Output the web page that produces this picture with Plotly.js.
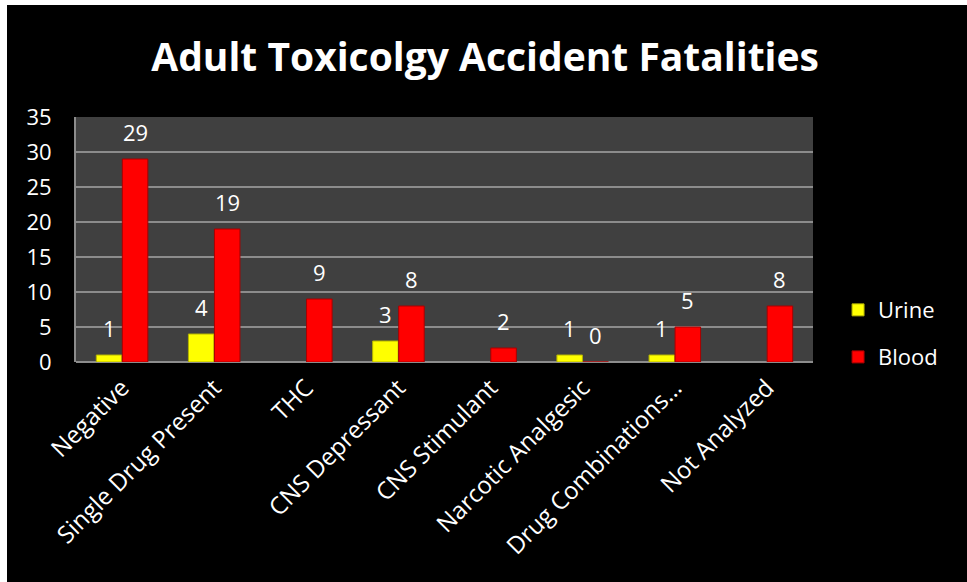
<!DOCTYPE html>
<html>
<head>
<meta charset="utf-8">
<script src="https://cdn.plot.ly/plotly-3.0.1.min.js"></script>
<style>
  html, body { margin: 0; padding: 0; background: #ffffff; width: 967px; height: 582px; overflow: hidden; }
  #chart { position: absolute; left: 7px; top: 5px; width: 960px; height: 577px; }
</style>
</head>
<body>
<div id="chart"></div>
<script>
const categories = ["Negative", "Single Drug Present", "THC", "CNS Depressant", "CNS Stimulant", "Narcotic Analgesic", "Drug Combinations…", "Not Analyzed"];
const urine = [1, 4, null, 3, null, 1, 1, null];
const blood = [29, 19, 9, 8, 2, 0, 5, 8];
const yTicks = [0, 5, 10, 15, 20, 25, 30, 35];

const FONT = "Open Sans, sans-serif";

const traces = [
  {
    type: "bar", name: "Urine", x: categories, y: urine,
    legend: "legend",
    marker: { color: "#ffff00", line: { color: "#b3b300", width: 1 } },
    hoverinfo: "skip"
  },
  {
    type: "bar", name: "Blood", x: categories, y: blood,
    legend: "legend2",
    marker: { color: "#ff0000", line: { color: "#a80000", width: 1 } },
    hoverinfo: "skip"
  }
];

const annotations = [];
function addLabels(vals, shift) {
  vals.forEach((v, i) => {
    if (v === null || v === undefined) return;
    annotations.push({
      x: categories[i], y: v, xref: "x", yref: "y",
      text: String(v), showarrow: false,
      xshift: shift, yshift: 27, yanchor: "middle",
      font: { family: FONT, size: 22, color: "#ffffff" }
    });
  });
}
addLabels(urine, -13);
addLabels(blood, 13);

const legendBase = {
  x: 1.034, xanchor: "left", yanchor: "middle",
  font: { family: FONT, size: 22, color: "#ffffff" },
  bgcolor: "rgba(0,0,0,0)"
};

const layout = {
  width: 960, height: 577,
  paper_bgcolor: "#000000",
  plot_bgcolor: "#404040",
  margin: { l: 69, r: 154, t: 112, b: 220 },
  title: {
    text: "<b>Adult Toxicolgy Accident Fatalities</b>",
    font: { family: FONT, size: 39, color: "#ffffff" },
    x: 0.498, xanchor: "center", y: 0.91, yanchor: "middle"
  },
  barmode: "group",
  bargap: 0.435,
  bargroupgap: 0.02,
  xaxis: {
    type: "category",
    tickangle: -45,
    tickfont: { family: FONT, size: 24, color: "#ffffff" },
    showgrid: false, showline: false, ticks: "", zeroline: false,
    ticklabelstandoff: 6
  },
  yaxis: {
    range: [0, 35],
    tickvals: yTicks,
    ticktext: yTicks.map(String),
    tickfont: { family: FONT, size: 22, color: "#ffffff" },
    showgrid: true, gridcolor: "#8c8c8c", gridwidth: 2,
    showline: true, linecolor: "#8c8c8c", linewidth: 2,
    zeroline: true, zerolinecolor: "#8c8c8c", zerolinewidth: 2,
    ticks: "", ticklabelstandoff: 18,
    fixedrange: true
  },
  showlegend: true,
  legend: Object.assign({}, legendBase, { y: 0.212 }),
  legend2: Object.assign({}, legendBase, { y: 0.02 }),
  annotations: annotations
};

Plotly.newPlot("chart", traces, layout, { displayModeBar: false, staticPlot: true });
</script>
</body>
</html>
